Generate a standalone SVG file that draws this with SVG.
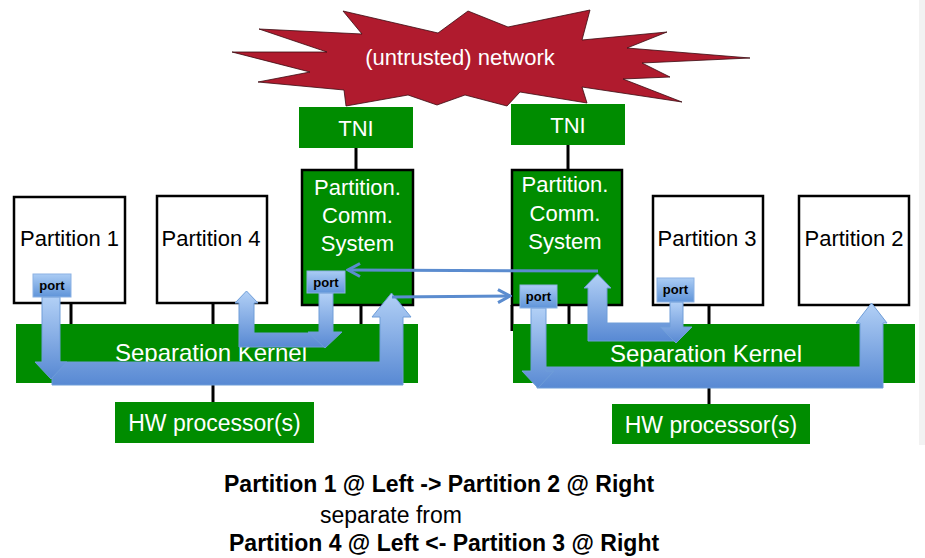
<svg xmlns="http://www.w3.org/2000/svg" width="925" height="558" viewBox="0 0 925 558">
<defs>
  <linearGradient id="blu" x1="0" y1="0" x2="0" y2="1">
    <stop offset="0" stop-color="#b2d0f6"/>
    <stop offset="1" stop-color="#5889d3"/>
  </linearGradient>
  <linearGradient id="portg" x1="0" y1="0" x2="0" y2="1">
    <stop offset="0" stop-color="#abccf4"/>
    <stop offset="1" stop-color="#5f94d9"/>
  </linearGradient>
  <marker id="open" viewBox="0 0 16 16" refX="14" refY="8" markerWidth="16" markerHeight="16" orient="auto" markerUnits="userSpaceOnUse">
    <path d="M2,1.5 L14,8 L2,14.5" fill="none" stroke="#5b8ccf" stroke-width="3"/>
  </marker>
</defs>
<style>
  .grn{fill:#008c00}
  .pcs{fill:#008c00;stroke:#000;stroke-width:2.5}
  .part{fill:#fff;stroke:#000;stroke-width:2.5}
  .tick{stroke:#000;stroke-width:3}
  .lbl{font-family:"Liberation Sans",Arial,sans-serif;font-size:22px;text-anchor:middle}
  .w{fill:#fff}
  .b{fill:#000}
  .arr{fill:url(#blu);stroke:#6e9dd8;stroke-width:1}
  .thin{stroke:#5b8ccf;stroke-width:3;fill:none}
  .prt{fill:url(#portg);stroke:#8cb2e4;stroke-width:1}
  .pt{font-family:"Liberation Sans",Arial,sans-serif;font-weight:bold;font-size:13px;text-anchor:middle;fill:#000}
  .cap{font-family:"Liberation Sans",Arial,sans-serif;font-size:23px;fill:#000}
</style>

<rect x="0" y="0" width="925" height="558" fill="#fff"/>
<rect x="919" y="0" width="6" height="445" fill="#f2f2f2"/>

<g id="network">
  <polygon fill="#b01b2e" stroke="#3a0a10" stroke-width="0.8" points="232,52 327,52 259,29 362,34 343,11 438,33 468,11 508,27 590,10 582,40 667,32 627,48 750,58 642,63 670,77 623,79 682,102 582,87 587,103 520,92 507,106 465,95 437,105 408,95 346,106 344,90 258,82 310,72"/>
  <text class="lbl w" x="460" y="65">(untrusted) network</text>
</g>

<g id="connectors-lines">
  <line class="tick" x1="356" y1="148" x2="356" y2="171"/>
  <line class="tick" x1="568" y1="145" x2="568" y2="171"/>
  <line class="tick" x1="71" y1="303" x2="71" y2="325"/>
  <line class="tick" x1="213" y1="303" x2="213" y2="325"/>
  <line class="tick" x1="361" y1="305" x2="361" y2="325"/>
  <line class="tick" x1="213" y1="383" x2="213" y2="403"/>
  <line class="tick" x1="512" y1="305" x2="512" y2="331"/>
  <line class="tick" x1="569" y1="302" x2="569" y2="324"/>
  <line class="tick" x1="709" y1="305" x2="709" y2="325"/>
  <line class="tick" x1="709" y1="383" x2="709" y2="405"/>
</g>

<g id="tni-left">
  <rect class="grn" x="299" y="107" width="114" height="41"/>
  <text class="lbl w" x="356" y="136">TNI</text>
</g>
<g id="tni-right">
  <rect class="grn" x="511" y="104" width="114" height="41"/>
  <text class="lbl w" x="568" y="133">TNI</text>
</g>

<g id="partition1">
  <rect class="part" x="14" y="197" width="111" height="106"/>
  <text class="lbl b" x="69.5" y="246">Partition 1</text>
</g>
<g id="partition4">
  <rect class="part" x="157" y="196" width="110" height="107"/>
  <text class="lbl b" x="211" y="246">Partition 4</text>
</g>
<g id="pcs-left">
  <rect class="pcs" x="302" y="170" width="111" height="135"/>
  <text class="lbl w" x="357.5" y="195">Partition.</text>
  <text class="lbl w" x="357.5" y="223">Comm.</text>
  <text class="lbl w" x="357.5" y="251">System</text>
</g>
<g id="pcs-right">
  <rect class="pcs" x="512" y="170" width="110" height="135"/>
  <text class="lbl w" x="565" y="192">Partition.</text>
  <text class="lbl w" x="565" y="221">Comm.</text>
  <text class="lbl w" x="565" y="249">System</text>
</g>
<g id="partition3">
  <rect class="part" x="653" y="196" width="110" height="109"/>
  <text class="lbl b" x="707" y="246">Partition 3</text>
</g>
<g id="partition2">
  <rect class="part" x="799" y="196" width="110" height="109"/>
  <text class="lbl b" x="854" y="246">Partition 2</text>
</g>

<g id="sk-left">
  <rect class="grn" x="16" y="324" width="402" height="59"/>
  <text class="lbl w" x="211" y="361" style="font-size:24px">Separation Kernel</text>
</g>
<g id="sk-right">
  <rect class="grn" x="513" y="324" width="402" height="59"/>
  <text class="lbl w" x="706" y="362" style="font-size:24px">Separation Kernel</text>
</g>

<g id="hw-left">
  <rect class="grn" x="115" y="402" width="199" height="41"/>
  <text class="lbl w" x="214.5" y="431" style="font-size:23px">HW processor(s)</text>
</g>
<g id="hw-right">
  <rect class="grn" x="612" y="404" width="198" height="40"/>
  <text class="lbl w" x="711" y="433" style="font-size:23px">HW processor(s)</text>
</g>

<g id="connectors">
  <path class="arr" d="M52,362 H380 V317 H372 L391.5,293 L411,317 H403 V385 H52 Z"/>
  <path class="arr" d="M42,297 H60 V362 H67 L51,379 L35,362 H42 Z"/>
  <line class="thin" x1="392" y1="297" x2="510" y2="296" marker-end="url(#open)"/>
  <path class="arr" d="M537,367 H860 V323 H856 L871.5,303 L887,323 H883 V388 H537 Z"/>
  <path class="arr" d="M531,308 H546 V371 H554 L538,388 L522,371 H531 Z"/>
  <path class="arr" d="M676,323 V341 H588 V288 H584 L597.5,274 L611,288 H607 V323 Z"/>
  <path class="arr" d="M670,302 H683 V327 H692 L676,343 L660,327 H670 Z"/>
  <line class="thin" x1="598" y1="271" x2="348" y2="270" marker-end="url(#open)"/>
  <path class="arr" d="M325,333 V347 H239 V303 H235 L246.5,291 L258,303 H254 V333 Z"/>
  <path class="arr" d="M319,293 H333 V332 H342 L325,348 L308,332 H319 Z"/>
</g>

<g id="port-p1">
  <rect class="prt" x="33" y="274" width="38" height="23"/>
  <text class="pt" x="52" y="290">port</text>
</g>
<g id="port-pcs-left">
  <rect class="prt" x="307" y="271" width="38" height="22"/>
  <text class="pt" x="326" y="287">port</text>
</g>
<g id="port-pcs-right">
  <rect class="prt" x="520" y="285" width="37" height="23"/>
  <text class="pt" x="538.5" y="301">port</text>
</g>
<g id="port-p3">
  <rect class="prt" x="657" y="278" width="37" height="24"/>
  <text class="pt" x="675.5" y="294">port</text>
</g>

<g id="caption">
  <text class="cap" x="224" y="492" font-weight="bold">Partition 1 @ Left -&gt; Partition 2 @ Right</text>
  <text class="cap" x="320" y="523">separate from</text>
  <text class="cap" x="229" y="551" font-weight="bold">Partition 4 @ Left &lt;- Partition 3 @ Right</text>
</g>
</svg>
